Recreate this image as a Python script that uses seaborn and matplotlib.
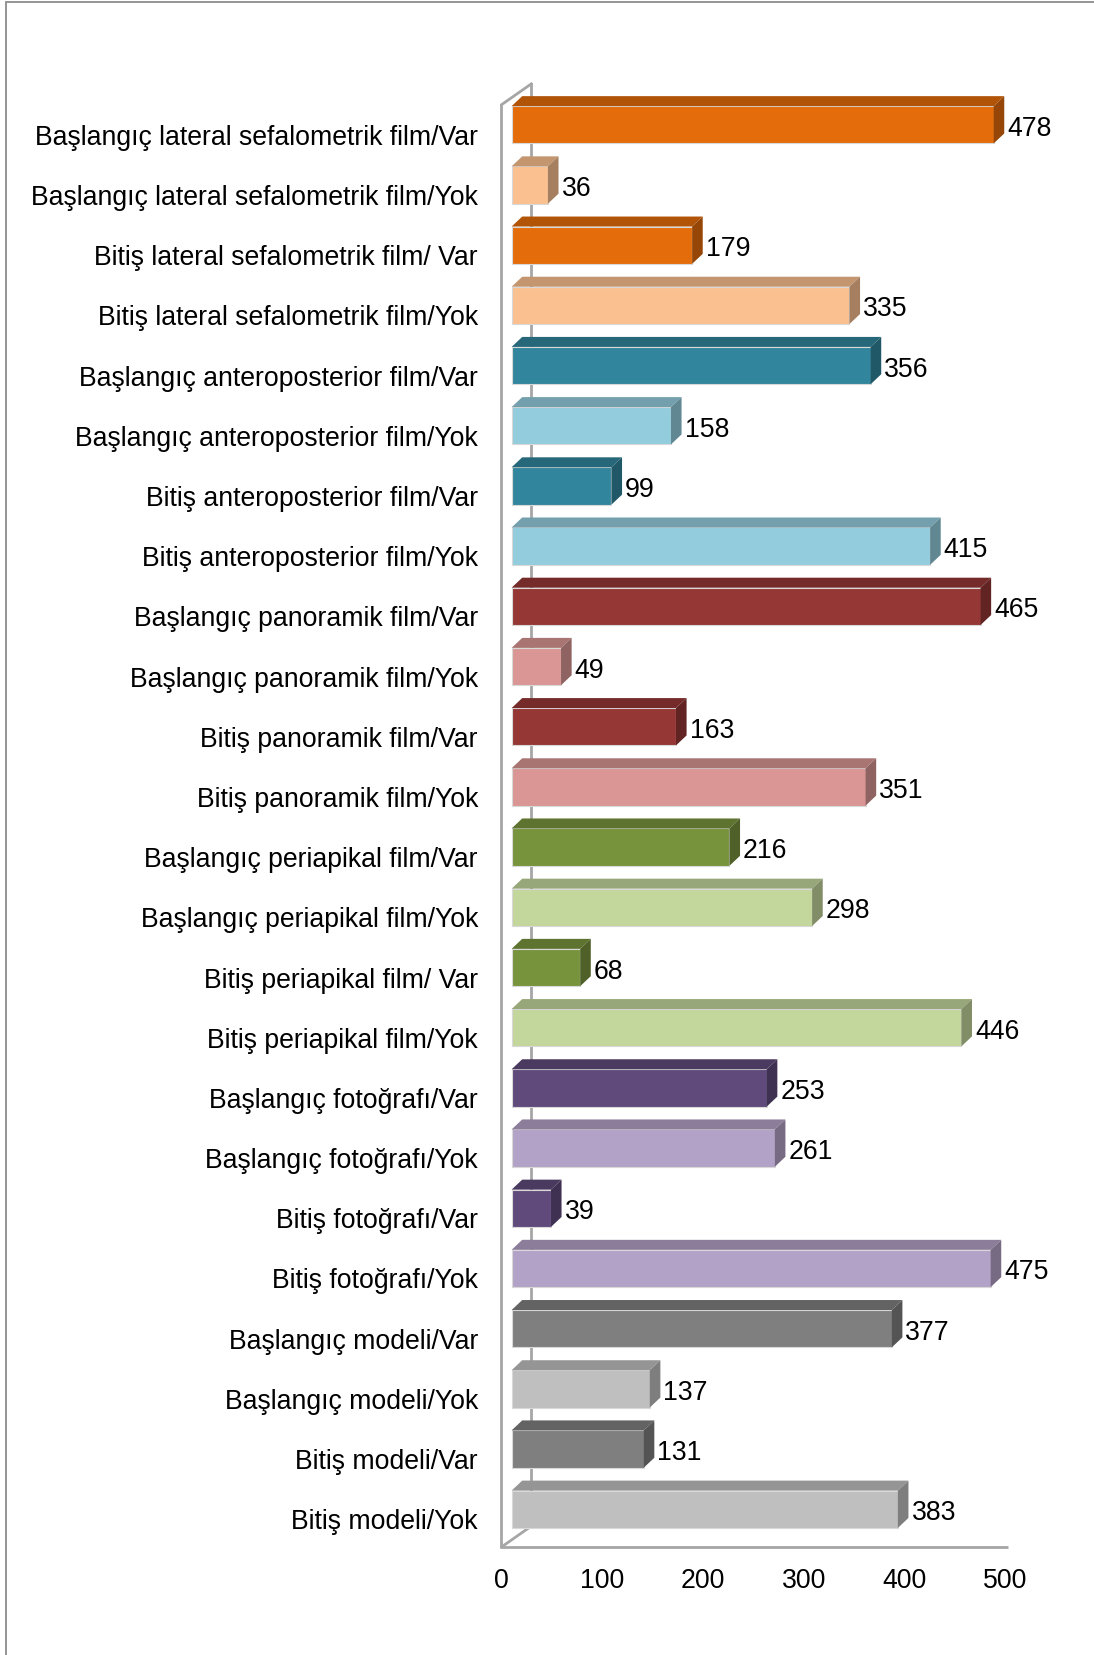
import matplotlib
matplotlib.use("Agg")
import matplotlib.pyplot as plt
import matplotlib.colors as mcolors
from matplotlib.patches import Polygon, Rectangle
from matplotlib.transforms import ScaledTranslation
import seaborn as sns
import pandas as pd

categories = [
    "Başlangıç lateral sefalometrik film/Var",
    "Başlangıç lateral sefalometrik film/Yok",
    "Bitiş lateral sefalometrik film/ Var",
    "Bitiş lateral sefalometrik film/Yok",
    "Başlangıç anteroposterior film/Var",
    "Başlangıç anteroposterior film/Yok",
    "Bitiş anteroposterior film/Var",
    "Bitiş anteroposterior film/Yok",
    "Başlangıç panoramik film/Var",
    "Başlangıç panoramik film/Yok",
    "Bitiş panoramik film/Var",
    "Bitiş panoramik film/Yok",
    "Başlangıç periapikal film/Var",
    "Başlangıç periapikal film/Yok",
    "Bitiş periapikal film/ Var",
    "Bitiş periapikal film/Yok",
    "Başlangıç fotoğrafı/Var",
    "Başlangıç fotoğrafı/Yok",
    "Bitiş fotoğrafı/Var",
    "Bitiş fotoğrafı/Yok",
    "Başlangıç modeli/Var",
    "Başlangıç modeli/Yok",
    "Bitiş modeli/Var",
    "Bitiş modeli/Yok",
]
values = [478, 36, 179, 335, 356, 158, 99, 415, 465, 49, 163, 351,
          216, 298, 68, 446, 253, 261, 39, 475, 377, 137, 131, 383]
dark_colors = ["#E46C0A", "#31859C", "#953735", "#77933C", "#604A7B", "#7F7F7F"]
light_colors = ["#FAC090", "#93CDDD", "#D99694", "#C3D69B", "#B3A2C7", "#BFBFBF"]
colors = []
for d, l in zip(dark_colors, light_colors):
    colors += [d, l, d, l]
xticks = [0, 100, 200, 300, 400, 500]

df = pd.DataFrame({"cat": categories, "val": values})

FS = 19.2
plt.rcParams["font.family"] = ["Liberation Sans", "DejaVu Sans"]

fig = plt.figure(figsize=(10.94, 16.56), dpi=100)
ax = fig.add_axes([0.4566, 0.06256, 0.4904, 0.8971])

sns.barplot(data=df, x="val", y="cat", hue="cat", palette=colors, legend=False,
            orient="h", width=0.62, ax=ax, edgecolor="#d8d8d8", linewidth=0.8,
            saturation=1, zorder=2)

ax.set_xlim(-12, 520)
ax.set_ylim(23.7, -0.98)

def darker(c, f):
    r, g, b = mcolors.to_rgb(c)
    return (r * f, g * f, b * f)

dx = 10.5
dy = 0.166
for p, c, v in zip(ax.patches, colors, values):
    x0 = p.get_x()
    x1 = x0 + p.get_width()
    yt = p.get_y()
    yb = yt + p.get_height()
    top = Polygon([(x0, yt), (x1, yt), (x1 + dx, yt - dy), (x0 + dx, yt - dy)],
                  closed=True, facecolor=darker(c, 0.78), edgecolor="none", zorder=2)
    side = Polygon([(x1, yt), (x1 + dx, yt - dy), (x1 + dx, yb - dy), (x1, yb)],
                   closed=True, facecolor=darker(c, 0.66), edgecolor="none", zorder=2)
    ax.add_patch(top)
    ax.add_patch(side)
    ax.text(x1 + dx + 3, (yt + yb) / 2 + 0.05, str(v), ha="left", va="center",
            fontsize=FS, color="black", zorder=3)

# 3D frame lines
lc = "#a6a6a6"
front_x = -10.3
back_x = 19.5
ax.plot([front_x, front_x], [-0.33, 23.63], color=lc, lw=2, zorder=1, solid_capstyle="butt")
ax.plot([front_x, back_x], [-0.33, -0.68], color=lc, lw=2, zorder=1)
ax.plot([back_x, back_x], [-0.68, 23.28], color=lc, lw=2, zorder=0.5)
ax.plot([front_x, back_x], [23.63, 23.28], color=lc, lw=2, zorder=0.5)
ax.plot([front_x, 492], [23.63, 23.63], color=lc, lw=2, zorder=1, solid_capstyle="butt")

for s in ax.spines.values():
    s.set_visible(False)
ax.set_xlabel("")
ax.set_ylabel("")
ax.set_xticks([t + front_x for t in xticks])
ax.set_xticklabels([str(t) for t in xticks], fontsize=FS)
ax.tick_params(axis="x", length=0, pad=11)
ax.tick_params(axis="y", length=0, pad=15.5, labelsize=FS)
offset = ScaledTranslation(0, -9 / 100, fig.dpi_scale_trans)
for lab in ax.get_yticklabels():
    lab.set_transform(lab.get_transform() + offset)

fig.patches.append(Rectangle((5.5 / 1094, -0.1), 1.2, 1.1 - 2.7 / 1656,
                             transform=fig.transFigure, fill=False,
                             edgecolor="#8c8c8c", lw=1.3))

fig.savefig("out.png", dpi=100)
